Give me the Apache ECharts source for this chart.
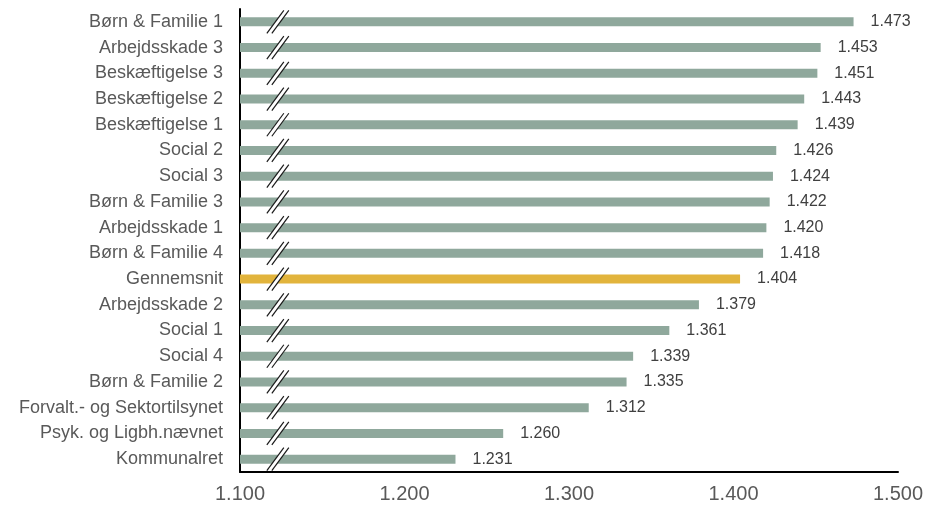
<!DOCTYPE html>
<html>
<head>
<meta charset="utf-8">
<script src="https://cdn.jsdelivr.net/npm/echarts@6/dist/echarts.min.js"></script>
<style>html,body{margin:0;padding:0;background:#fff}#c{width:926px;height:505px}</style>
</head>
<body>
<div id="c"></div>
<script>
const categories = ["Børn & Familie 1","Arbejdsskade 3","Beskæftigelse 3","Beskæftigelse 2","Beskæftigelse 1","Social 2","Social 3","Børn & Familie 3","Arbejdsskade 1","Børn & Familie 4","Gennemsnit","Arbejdsskade 2","Social 1","Social 4","Børn & Familie 2","Forvalt.- og Sektortilsynet","Psyk. og Ligbh.nævnet","Kommunalret"];
const values = [1.473,1.453,1.451,1.443,1.439,1.426,1.424,1.422,1.420,1.418,1.404,1.379,1.361,1.339,1.335,1.312,1.260,1.231];
const highlight = "Gennemsnit";
const axisMin = 1.1, axisMax = 1.5, axisStep = 0.1;
const breakAt = 1.123;

const fmt = v => v.toFixed(3);
const chart = echarts.init(document.getElementById('c'), null, {renderer:'canvas'});
chart.setOption({
  animation:false,
  grid:{left:240,right:28,top:9,bottom:33,containLabel:false},
  xAxis:{type:'value',min:axisMin,max:axisMax,interval:axisStep,
    axisLine:{show:true,lineStyle:{color:'#000',width:2}},
    axisTick:{show:false},splitLine:{show:false},
    axisLabel:{formatter:v=>fmt(v),color:'#595959',fontSize:20,fontFamily:'Liberation Sans, Arial',margin:12}},
  yAxis:{type:'category',data:categories,inverse:true,
    axisLine:{show:true,lineStyle:{color:'#000',width:2}},
    axisTick:{show:false},
    axisLabel:{color:'#595959',fontSize:18,fontFamily:'Liberation Sans, Arial',margin:17}},
  series:[
    {type:'bar',barWidth:9,
     data:values.map((v,i)=>({value:v,itemStyle:{color:categories[i]===highlight?'#e2b43c':'#8fa89c'}})),
     label:{show:true,position:'right',distance:17,formatter:p=>fmt(p.value),color:'#404040',fontSize:16,fontFamily:'Liberation Sans, Arial'}},
    {type:'custom',z:10,
     data:categories.map((c,i)=>[breakAt,i]),
     renderItem:(params,api)=>{
       const p = api.coord([api.value(0),api.value(1)]);
       const cx=p[0], cy=p[1], h=11.5, dx=8.5, g=5;
       return {type:'group',children:[
         {type:'polygon',shape:{points:[[cx-dx-g/2,cy+h],[cx+dx-g/2,cy-h],[cx+dx+g/2,cy-h],[cx-dx+g/2,cy+h]]},style:{fill:'#fff'}},
         {type:'line',shape:{x1:cx-dx-g/2,y1:cy+h,x2:cx+dx-g/2,y2:cy-h},style:{stroke:'#1a1a1a',lineWidth:1.2}},
         {type:'line',shape:{x1:cx-dx+g/2,y1:cy+h,x2:cx+dx+g/2,y2:cy-h},style:{stroke:'#1a1a1a',lineWidth:1.2}}
       ]};
     }}
  ]
});
</script>
</body>
</html>
